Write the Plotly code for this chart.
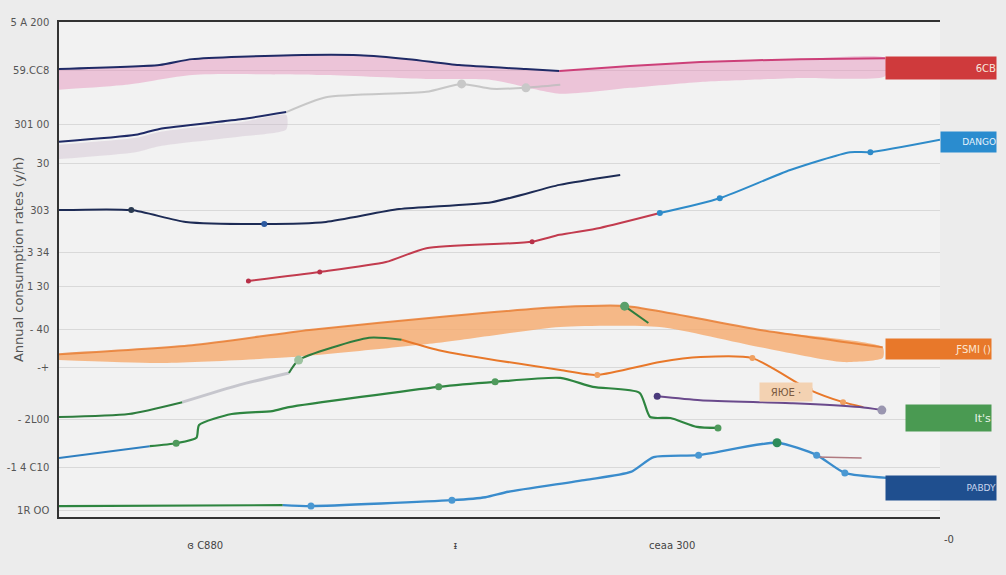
import plotly.graph_objects as go

# ---------------- data (x: 0-100 period scale, y: 0-100 index scale) ----------------
pink_x = [0, 11.4, 15.1, 26.4, 34.1, 39.7, 45.4, 53.0, 56.8, 64.8, 72.8, 84.1, 93.8]
pink_y = [90.5, 91.3, 92.5, 93.3, 93.3, 92.5, 91.3, 90.5, 90.1, 91.1, 91.9, 92.5, 92.7]
pink_low_x = [0, 7.6, 15.1, 30.3, 41.7, 49.1, 56.8, 64.8, 72.8, 84.1, 93.8]
pink_low_y = [86.3, 87.3, 89.3, 89.3, 88.5, 88.3, 85.5, 86.7, 87.9, 88.7, 89.1]

navy2_x = [0, 8.7, 11.4, 20.8, 25.8]
navy2_y = [75.8, 77.2, 78.4, 80.4, 81.8]
ghost_x = [25.8, 30.3, 41.7, 45.7, 49.1, 53.0, 56.9]
ghost_y = [81.8, 84.8, 85.9, 87.5, 86.5, 86.7, 87.3]

navy3_x = [0, 8.2, 14.4, 23.3, 30.3, 38.6, 49.1, 56.8, 63.7]
navy3_y = [62.0, 62.0, 59.6, 59.2, 59.6, 62.2, 63.6, 67.1, 69.1]

red_x = [21.5, 29.6, 37.1, 41.7, 53.7, 56.8, 61.4, 68.2]
red_y = [47.7, 49.5, 51.5, 54.3, 55.6, 57.0, 58.4, 61.4]
blue_up_x = [68.2, 75.0, 83.0, 89.8, 92.1, 100]
blue_up_y = [61.4, 64.4, 70.1, 73.7, 73.7, 76.2]

orange_up_x = [0, 15.1, 28.4, 44.4, 56.9, 64.5, 79.6, 93.5]
orange_up_y = [32.9, 34.7, 37.8, 40.6, 42.4, 42.6, 37.8, 34.3]
orange_low_x = [0, 11.4, 26.4, 43.1, 56.9, 68.2, 79.6, 89.0, 93.5]
orange_low_y = [31.7, 31.1, 32.3, 35.2, 38.4, 38.4, 34.3, 31.3, 32.1]

gmid_x = [0, 7.9, 14.0]
gmid_y = [20.2, 20.8, 23.2]
gmid_ghost_x = [14.0, 20.5, 26.1]
gmid_ghost_y = [23.2, 26.7, 29.1]
gmid2_x = [26.1, 27.2, 35.2, 38.9]
gmid2_y = [29.1, 31.7, 36.2, 35.8]
oline_x = [38.9, 43.1, 56.9, 61.1, 68.2, 72.8, 78.7, 85.2, 89.0, 91.3]
oline_y = [35.8, 33.7, 29.7, 28.7, 31.3, 32.3, 32.1, 25.7, 23.2, 22.2]

glow_blue_x = [0, 10.3]
glow_blue_y = [11.9, 14.3]
glow_x = [10.3, 13.3, 15.6, 15.9, 19.6, 24.2, 26.1, 43.1, 49.5, 56.9, 60.6, 65.9, 67.1, 69.4, 72.4, 74.8]
glow_y = [14.3, 14.9, 16.0, 18.6, 20.8, 21.4, 22.2, 26.3, 27.3, 28.1, 26.3, 25.1, 20.2, 20.0, 18.2, 18.0]
gtick_x = [64.2, 66.9]
gtick_y = [42.6, 39.2]

purple_x = [67.9, 72.8, 83.3, 90.9, 93.4]
purple_y = [24.4, 23.6, 23.0, 22.2, 21.6]

bot_green_x = [0, 25.4]
bot_green_y = [2.2, 2.4]
bot_blue_x = [25.4, 28.6, 44.6, 48.4, 51.0, 59.8, 64.9, 67.5, 72.6, 81.5, 86.0, 89.2, 94.0]
bot_blue_y = [2.4, 2.2, 3.4, 4.0, 5.1, 7.5, 9.1, 12.1, 12.5, 15.0, 12.5, 8.9, 7.9]
brown_x = [86.0, 91.1]
brown_y = [12.1, 11.9]

y_tickvals = [100, 90.3, 79.2, 71.5, 62.0, 53.5, 46.5, 37.8, 30.3, 19.6, 10.1, 1.4]
y_ticktext = ["5 A 200", "59.CC8", "301 00", "30", "303", "3 34", "1 30",
              "- 40", "-+", "- 2L00", "-1 4 C10", "1R OO"]
x_tickvals = [16.6, 45.0, 69.6]
x_ticktext = ["ɞ C880", "ᵻ", "ceaa 300"]

y_title = "Annual consumption rates (y/h)"
label_texts = ["6CB", "DANGO", "ƑSMI ()", "It's", "PABDY", "ЯЮE ·"]

# ---------------- figure ----------------
fig = go.Figure()

def line(x, y, color, width=2, opacity=1.0, dash=None):
    fig.add_trace(go.Scatter(x=x, y=y, mode="lines", opacity=opacity,
                             line=dict(color=color, width=width, shape="spline",
                                       smoothing=0.6, dash=dash),
                             hoverinfo="skip", showlegend=False))

def band(ux, uy, lx, ly, color):
    fig.add_trace(go.Scatter(x=ux + lx[::-1], y=uy + ly[::-1], mode="lines",
                             fill="toself", fillcolor=color,
                             line=dict(width=0, shape="spline", smoothing=0.6),
                             hoverinfo="skip", showlegend=False))

def dots(x, y, color, size=7):
    fig.add_trace(go.Scatter(x=x, y=y, mode="markers",
                             marker=dict(color=color, size=size, line=dict(width=0)),
                             hoverinfo="skip", showlegend=False))

# pink band + top line
band(pink_x, pink_y, pink_low_x, pink_low_y, "rgba(228,140,185,0.45)")
line(pink_x[:9], pink_y[:9], "#1f2a66", 2)
line(pink_x[8:], pink_y[8:], "#cc3f78", 2)

# navy 2 with shadow and ghost continuation
band(navy2_x, [v - 0.6 for v in navy2_y], navy2_x, [v - 3.5 for v in navy2_y], "rgba(200,180,200,0.35)")
line(navy2_x, navy2_y, "#1f2a66", 2)
line(ghost_x, ghost_y, "#bdbdbd", 2, opacity=0.8)
dots([ghost_x[3], ghost_x[5]], [ghost_y[3], ghost_y[5]], "#c8c8c8", 9)

# navy 3
line(navy3_x, navy3_y, "#1d2b55", 2)
dots([navy3_x[1]], [navy3_y[1]], "#2a3a50", 6)
dots([navy3_x[3]], [navy3_y[3]], "#2c5aa0", 6)

# red -> blue rising line
line(red_x, red_y, "#c23b4e", 2)
line(blue_up_x, blue_up_y, "#2e8bc9", 2)
dots([red_x[0], red_x[1], red_x[4]], [red_y[0], red_y[1], red_y[4]], "#b83048", 5)
dots([blue_up_x[0], blue_up_x[1], blue_up_x[4]], [blue_up_y[0], blue_up_y[1], blue_up_y[4]], "#2e8bc9", 6)

# orange band
band(orange_up_x, orange_up_y, orange_low_x, orange_low_y, "rgba(246,168,105,0.78)")
line(orange_up_x, orange_up_y, "#e8782a", 2, opacity=0.8)

# middle green -> orange line
line(gmid_x, gmid_y, "#2e7d3e", 2)
line(gmid_ghost_x, gmid_ghost_y, "#bcbcc4", 3, opacity=0.8)
line(gmid2_x, gmid2_y, "#2e7d3e", 2)
line(oline_x, oline_y, "#e8782a", 2)
dots([gmid2_x[1]], [gmid2_y[1]], "#9dc3a0", 9)
dots([oline_x[3], oline_x[6], oline_x[7], oline_x[8]], [oline_y[3], oline_y[6], oline_y[7], oline_y[8]], "#f0a060", 6)

# purple
line(purple_x, purple_y, "#6a4a8c", 2)
dots([purple_x[0]], [purple_y[0]], "#4a3a7c", 7)
dots([purple_x[-1]], [purple_y[-1]], "#9a96b0", 9)

# lower green line
line(glow_blue_x, glow_blue_y, "#2f7fc0", 2)
line(glow_x, glow_y, "#2e8540", 2.2)
line(gtick_x, gtick_y, "#2e7d3e", 2)
dots([gtick_x[0]], [gtick_y[0]], "#5aa06a", 9)
dots([glow_x[1], glow_x[7], glow_x[8], glow_x[-1]], [glow_y[1], glow_y[7], glow_y[8], glow_y[-1]], "#4f9a5c", 7)

# bottom green -> blue line
line(bot_green_x, bot_green_y, "#2e8540", 2.2)
line(bot_blue_x, bot_blue_y, "#3a8ccc", 2.4)
line(brown_x, brown_y, "#b07a80", 1.5)
dots([bot_blue_x[9]], [bot_blue_y[9]], "#2e8c5a", 9)
dots([bot_blue_x[1], bot_blue_x[2], bot_blue_x[8], bot_blue_x[10], bot_blue_x[11]],
     [bot_blue_y[1], bot_blue_y[2], bot_blue_y[8], bot_blue_y[10], bot_blue_y[11]], "#4a98d2", 7)

# ---------------- end labels ----------------
def end_label(xpaper, yval, text, bg, w, h, fcolor="#f6e6dc", fsize=10):
    fig.add_annotation(xref="paper", yref="y", x=xpaper, y=yval, xanchor="left",
                       yanchor="middle", text=text, showarrow=False, width=w, height=h,
                       align="right", bgcolor=bg, borderpad=0,
                       font=dict(color=fcolor, size=fsize, family="DejaVu Sans"))

end_label(0.938, pink_y[-1] - 2.0, label_texts[0], "#cf3a3c", 110, 22)
end_label(1.0, blue_up_y[-1] - 0.4, label_texts[1], "#2a8ccf", 55, 20, "#e6f2fb", 9)
end_label(0.938, orange_low_y[-1] + 1.8, label_texts[2], "#e8782a", 105, 20, "#fbe6d2")
end_label(0.96, 20.0, label_texts[3], "#4a9a52", 85, 26, "#e6f3e6", 11)
end_label(0.938, bot_blue_y[-1] - 2.0, label_texts[4], "#1f4f8f", 110, 24, "#c8d6ee", 9)

fig.add_annotation(x=82.5, y=25.3, xref="x", yref="y", text=label_texts[5], showarrow=False,
                   bgcolor="#f3d2b2", width=50, height=16,
                   font=dict(color="#7a5a40", size=10, family="DejaVu Sans"))
fig.add_annotation(xref="paper", yref="paper", x=1.002, y=-0.03, xanchor="left", yanchor="top",
                   text="-0", showarrow=False, font=dict(color="#444", size=10, family="DejaVu Sans"))

# y-axis title placed as rotated annotation
fig.add_annotation(xref="paper", yref="paper", x=-0.046, y=0.52, xanchor="center", yanchor="middle",
                   text=y_title, textangle=-90, showarrow=False,
                   font=dict(color="#555", size=13, family="DejaVu Sans"))

# ---------------- layout ----------------
fig.update_layout(
    width=1006, height=575,
    margin=dict(l=59, r=66, t=22, b=58),
    paper_bgcolor="#ececec", plot_bgcolor="#f2f2f2",
    font=dict(family="DejaVu Sans", color="#555"),
    xaxis=dict(range=[0, 100], showgrid=False, zeroline=False, automargin=False,
               showline=True, linecolor="#333", linewidth=2, mirror=True,
               tickvals=x_tickvals, ticktext=x_ticktext, ticks="",
               ticklabelstandoff=18, tickfont=dict(size=10, color="#444")),
    yaxis=dict(range=[0, 100], zeroline=False, automargin=False,
               showline=True, linecolor="#333", linewidth=1.5,
               tickvals=y_tickvals, ticktext=y_ticktext, ticks="",
               showgrid=True, gridcolor="#d9d9d9", gridwidth=1,
               tickfont=dict(size=10, color="#555"), ticklabelstandoff=6),
)

fig.write_html("out.html", config={"displayModeBar": False},
               post_script="document.body.style.margin='0';document.body.style.background='#ececec';")
